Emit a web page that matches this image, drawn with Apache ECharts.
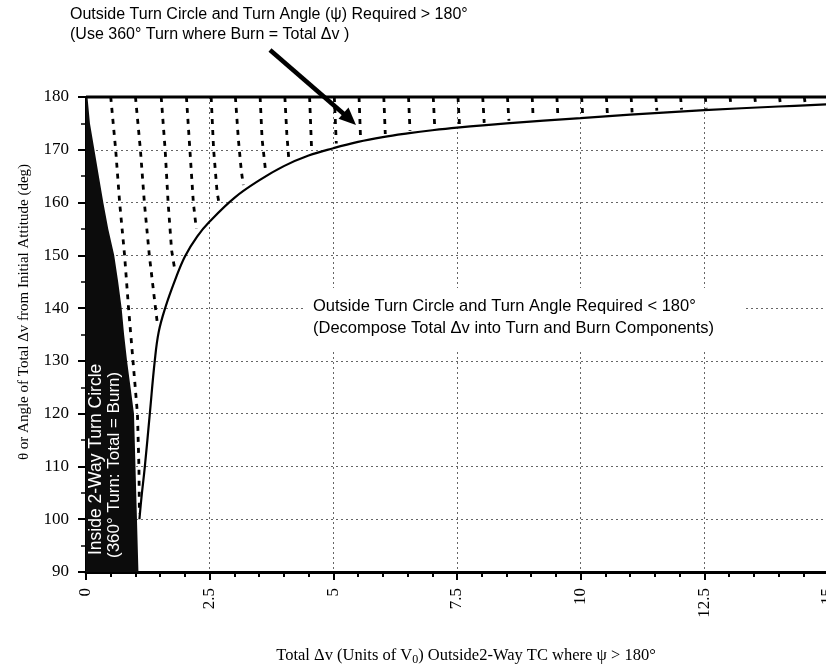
<!DOCTYPE html>
<html>
<head>
<meta charset="utf-8">
<script src="https://cdn.jsdelivr.net/npm/echarts@6/dist/echarts.min.js"></script>
<style>
  html, body { margin: 0; padding: 0; background: #fff; }
  #chart { width: 826px; height: 671px; }
</style>
</head>
<body>
<div id="chart"></div>
<script>
  // axis ranges
  var xRange = [0, 15]
  var yRange = [90, 180]

  // black region: inside 2-way turn circle (left edge x=0, right edge)
  var insideRegion = [
    [0, 180], [0.03, 180], [0.08, 175], [0.17, 170], [0.26, 165], [0.35, 160],
    [0.45, 155], [0.57, 150], [0.65, 145], [0.72, 140], [0.77, 135], [0.83, 130],
    [0.9, 125], [0.97, 120], [1.0, 110], [1.03, 100], [1.06, 90], [0, 90]
  ]

  // solid boundary curve (psi = 180 deg)
  var solidCurve = [
    [1.08, 100], [1.12, 104], [1.19, 110], [1.29, 120], [1.39, 130], [1.47, 135.5],
    [1.6, 140], [1.8, 145.3], [2.0, 149.8], [2.25, 153.6], [2.5, 156.4], [3.0, 160.9],
    [3.5, 164.2], [4.0, 166.9], [4.5, 168.9], [5.0, 170.3], [5.5, 171.5], [6.0, 172.4],
    [6.5, 173.1], [7.0, 173.7], [7.5, 174.2], [8.5, 175.0], [10, 176.0], [11, 176.65],
    [12.5, 177.5], [14, 178.2], [15, 178.6]
  ]

  // dashed lines starting on the 180 line every 0.5
  var dashPaths = [
    [[0.5, 180], [0.6, 170], [0.68, 160], [0.78, 150], [0.86, 140], [0.95, 130], [1.04, 120], [1.07, 110], [1.08, 101]],
    [[1.0, 180], [1.1, 170], [1.18, 160], [1.28, 150], [1.38, 142], [1.45, 136.5]],
    [[1.52, 180], [1.6, 170], [1.66, 160], [1.73, 151], [1.8, 147]],
    [[2.03, 180], [2.1, 170], [2.17, 160], [2.23, 155]],
    [[2.53, 180], [2.58, 170], [2.65, 162], [2.7, 159.3]],
    [[3.02, 180], [3.08, 172], [3.14, 166], [3.18, 163.3]],
    [[3.52, 180], [3.56, 172], [3.63, 166]],
    [[4.02, 180], [4.06, 173], [4.1, 168.2]],
    [[4.52, 180], [4.56, 170.2]],
    [[5.02, 180], [5.06, 171.2]],
    [[5.52, 180], [5.55, 172.2]],
    [[6.02, 180], [6.05, 173]],
    [[6.52, 180], [6.55, 173.6]],
    [[7.02, 180], [7.05, 174.2]],
    [[7.52, 180], [7.55, 174.6]],
    [[8.02, 180], [8.05, 175.1]],
    [[8.52, 180], [8.55, 175.5]],
    [[9.02, 180], [9.04, 175.9]],
    [[9.52, 180], [9.54, 176.2]],
    [[10.02, 180], [10.04, 176.5]],
    [[10.52, 180], [10.54, 176.8]],
    [[11.02, 180], [11.04, 177.1]],
    [[11.52, 180], [11.54, 177.4]],
    [[12.02, 180], [12.04, 177.6]],
    [[12.52, 180], [12.54, 177.8]],
    [[13.02, 180], [13.04, 178.1]],
    [[13.52, 180], [13.54, 178.3]],
    [[14.02, 180], [14.04, 178.5]],
    [[14.52, 180], [14.54, 178.7]]
  ]

  // top limit line
  var topLine = [[0, 180], [15, 180]]

  var serif = 'Liberation Serif'
  var sans = 'Liberation Sans'

  var chart = echarts.init(document.getElementById('chart'))

  var series = []
  // black region
  series.push({
    type: 'custom',
    silent: true,
    z: 1,
    data: [insideRegion[0]],
    renderItem: function (params, api) {
      var pts = insideRegion.map(function (p) { return api.coord(p) })
      return { type: 'polygon', shape: { points: pts }, style: { fill: '#0c0c0c' } }
    }
  })
  // dashed lines
  dashPaths.forEach(function (path) {
    series.push({
      type: 'line',
      data: path,
      symbol: 'none',
      silent: true,
      z: 3,
      lineStyle: { color: '#000', width: 2.8, type: [5, 6] }
    })
  })
  // solid curve
  series.push({
    type: 'line',
    data: solidCurve,
    symbol: 'none',
    smooth: 0.4,
    silent: true,
    z: 4,
    lineStyle: { color: '#000', width: 2.2 }
  })
  // 180 line
  series.push({
    type: 'line',
    data: topLine,
    symbol: 'none',
    silent: true,
    clip: false,
    z: 5,
    lineStyle: { color: '#000', width: 3 }
  })

  var gridLine = { show: true, lineStyle: { color: '#666', width: 1, type: [2, 3] } }

  try {
    chart.setOption({
      animation: false,
      backgroundColor: '#fff',
      grid: { left: 86, right: -2, top: 97, bottom: 99, outerBoundsMode: 'none' },
      xAxis: {
        type: 'value',
        min: xRange[0],
        max: xRange[1],
        interval: 2.5,
        axisLine: { show: true, onZero: false, lineStyle: { color: '#000', width: 3 } },
        axisTick: { show: true, length: 8, lineStyle: { color: '#000', width: 2 } },
        minorTick: { show: true, splitNumber: 5, length: 5, lineStyle: { color: '#000', width: 2 } },
        axisLabel: { rotate: 90, margin: 16, color: '#000', fontFamily: serif, fontSize: 17 },
        splitLine: gridLine
      },
      yAxis: {
        type: 'value',
        min: yRange[0],
        max: yRange[1],
        interval: 10,
        axisLine: { show: true, onZero: false, lineStyle: { color: '#000', width: 2 } },
        axisTick: { show: true, length: 8, lineStyle: { color: '#000', width: 2 } },
        minorTick: { show: true, splitNumber: 2, length: 5, lineStyle: { color: '#000', width: 1.5 } },
        axisLabel: { margin: 17, color: '#000', fontFamily: serif, fontSize: 17 },
        splitLine: gridLine
      },
      graphic: [
        // top annotation
        {
          type: 'text', left: 70, top: 5, z: 100,
          style: {
            text: 'Outside Turn Circle and Turn Angle (\u03c8) Required > 180\u00b0\n(Use 360\u00b0 Turn where Burn = Total \u0394v )',
            font: '16px ' + sans, fill: '#000', lineHeight: 20
          }
        },
        // arrow
        {
          type: 'line', z: 100,
          shape: { x1: 270, y1: 50, x2: 345, y2: 115 },
          style: { stroke: '#000', lineWidth: 4.5 }
        },
        {
          type: 'polygon', z: 100,
          shape: { points: [[356, 125], [338.5, 118.8], [348.5, 107.4]] },
          style: { fill: '#000' }
        },
        // middle annotation with white box
        {
          type: 'rect', z: 90,
          shape: { x: 303, y: 288, width: 442, height: 63 },
          style: { fill: '#fff' }
        },
        {
          type: 'text', left: 313, top: 295, z: 100,
          style: {
            text: 'Outside Turn Circle and Turn Angle Required < 180\u00b0\n(Decompose Total \u0394v into Turn and Burn Components)',
            font: '16.5px ' + sans, fill: '#000', lineHeight: 22
          }
        },
        // text inside the black region
        {
          type: 'text', x: 96, y: 555, rotation: Math.PI / 2, z: 100,
          style: { text: 'Inside 2-Way Turn Circle', font: '17.5px ' + sans, fill: '#fff', align: 'left', verticalAlign: 'middle' }
        },
        {
          type: 'text', x: 114, y: 558, rotation: Math.PI / 2, z: 100,
          style: { text: '(360\u00b0 Turn: Total = Burn)', font: '17px ' + sans, fill: '#fff', align: 'left', verticalAlign: 'middle' }
        },
        // y axis title
        {
          type: 'text', x: 24, y: 312, rotation: Math.PI / 2, z: 100,
          style: {
            text: '\u03b8 or Angle of Total \u0394v from Initial Attitude (deg)',
            font: '15px ' + serif, fill: '#000', align: 'center', verticalAlign: 'middle'
          }
        },
        // x axis title
        {
          type: 'text', x: 466, y: 656, z: 100,
          style: {
            text: '{a|Total \u0394v (Units of V}{s|0}{a|) Outside2-Way TC where \u03c8 > 180\u00b0}',
            align: 'center', verticalAlign: 'middle',
            rich: {
              a: { fontFamily: serif, fontSize: 16.5, fill: '#000' },
              s: { fontFamily: serif, fontSize: 12, fill: '#000', padding: [8, 0, 0, 0] }
            }
          }
        }
      ],
      series: series
    })
  } catch (e) {
    console.log(e + ' error')
  }
</script>
</body>
</html>
